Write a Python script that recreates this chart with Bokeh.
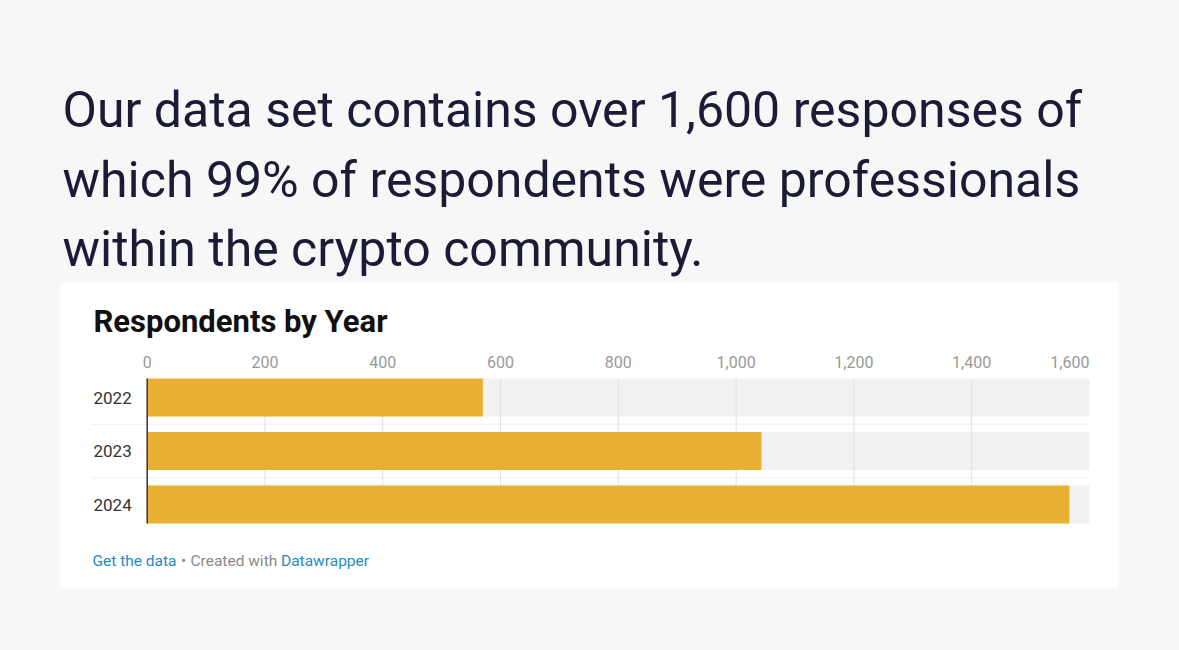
from bokeh.plotting import figure
from bokeh.embed import file_html
from bokeh.resources import INLINE
from bokeh.core.properties import value
from bokeh.models import Range1d, ColumnDataSource

# ---------------- data ----------------
years = ["2022", "2023", "2024"]
respondents = [570, 1043, 1566]
axis_max = 1600
tick_values = [0, 200, 400, 600, 800, 1000, 1200, 1400, 1600]
tick_labels = ["0", "200", "400", "600", "800", "1,000", "1,200", "1,400", "1,600"]
heading_lines = [
    "Our data set contains over 1,600 responses of",
    "which 99% of respondents were professionals",
    "within the crypto community.",
]
chart_title = "Respondents by Year"
footer_parts = ["Get the data", "\u2022", "Created with", "Datawrapper"]

# ---------------- geometry (page pixels) ----------------
W, H = 1179, 650
OFF = 0
ZERO_PX = 146.7
PX_PER_UNIT = 0.5889
ROW0_PX = 397.0
ROW_PITCH = 53.5


def dx(px):
    return (px - ZERO_PX) / PX_PER_UNIT


def dy(py):
    return (py - ROW0_PX) / ROW_PITCH


FONT = "Roboto"
BG = "#f7f7f8"

p = figure(
    width=W, height=H,
    x_range=Range1d(dx(OFF), dx(OFF + W)),
    y_range=Range1d(dy(OFF + H), dy(OFF)),
    x_axis_type=None, y_axis_type=None,
    toolbar_location=None, output_backend="svg",
    min_border=0, outline_line_color=None,
    background_fill_color=BG, border_fill_color=BG,
)

# card
p.quad(left=[dx(60)], right=[dx(1118)], top=[dy(282)], bottom=[dy(588)],
       fill_color="white", line_color=None)

# heading
heading_mid = [109.5, 179.0, 248.5]
p.text(x=[dx(62)] * 3, y=[dy(v) for v in heading_mid], text=heading_lines,
       text_font=value(FONT), text_font_size="50px",
       text_color="#1b1b36", text_baseline="middle", text_align="left")

# title
p.text(x=[dx(93)], y=[dy(320.5)], text=[chart_title], text_font=value(FONT),
       text_font_size="31px", text_font_style="bold", text_color="#111111",
       text_baseline="middle", text_align="left")

idx = list(range(len(years)))
band_h = 38 / ROW_PITCH
half = band_h / 2

# background bands
p.hbar(y=idx, left=0, right=axis_max, height=band_h, fill_color="#f1f1f1", line_color=None)

# row separators
sep_y = [i + 0.5 for i in idx[:-1]]
p.segment(x0=[dx(92)] * len(sep_y), x1=[axis_max] * len(sep_y), y0=sep_y, y1=sep_y,
          line_color="#dcdcdc", line_width=1, line_dash="1 1")

# grid lines
grid_x = tick_values[1:-1]
p.segment(x0=grid_x, x1=grid_x, y0=[-half] * len(grid_x), y1=[idx[-1] + half] * len(grid_x),
          line_color="#e0e0e0", line_width=1)

# bars
src = ColumnDataSource(dict(y=idx, v=respondents, year=years))
p.hbar(y="y", left=0, right="v", height=band_h, fill_color="#e9b133", line_color=None, source=src)

# zero line
p.segment(x0=[0], x1=[0], y0=[-half], y1=[idx[-1] + half], line_color="#333333", line_width=1.5)

# tick labels
aligns = ["center"] * (len(tick_values) - 1) + ["right"]
tsrc = ColumnDataSource(dict(x=tick_values, t=tick_labels, a=aligns, y=[dy(361.5)] * len(tick_values)))
p.text(x="x", y="y", text="t", text_align="a", source=tsrc, text_font=value(FONT),
       text_font_size="16px", text_color="#999999", text_baseline="middle")

# year labels
p.text(x=[dx(93)] * len(years), y=idx, text=years, text_font=value(FONT),
       text_font_size="17px", text_color="#333333", text_baseline="middle", text_align="left")

# footer
fx = [92, 183, 190, 280.5]
fal = ["left", "center", "left", "left"]
fcol = ["#268bbf", "#8a8a8a", "#8a8a8a", "#268bbf"]
fsrc = ColumnDataSource(dict(x=[dx(v) for v in fx], y=[dy(560.5)] * 4, t=footer_parts, a=fal, c=fcol))
p.text(x="x", y="y", text="t", text_align="a", text_color="c", source=fsrc,
       text_font=value(FONT), text_font_size="15.5px", text_baseline="middle")

html = file_html(p, INLINE, title="Respondents by Year")
html = html.replace("<body>", '<body style="background-color:%s;">' % BG)
open("out.html", "w").write(html)
